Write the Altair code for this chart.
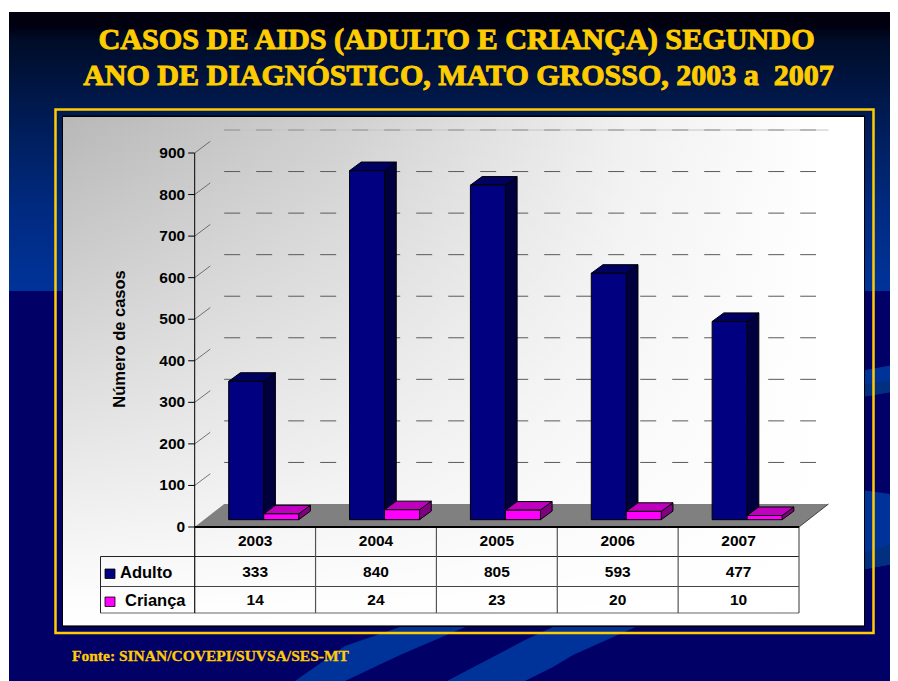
import altair as alt

# ---- data
years = ["2003", "2004", "2005", "2006", "2007"]
adulto = [333, 840, 805, 593, 477]
crianca = [14, 24, 23, 20, 10]
y_ticks = [0, 100, 200, 300, 400, 500, 600, 700, 800, 900]
title_lines = ["CASOS DE AIDS (ADULTO E CRIANÇA) SEGUNDO",
               "ANO DE DIAGNÓSTICO, MATO GROSSO, 2003 a\u00a0 2007"]
source_text = "Fonte: SINAN/COVEPI/SUVSA/SES-MT"

# ---- layout (image pixels)
OX, OY = 8, 8
W, H = 882, 673
PX0, PX5 = 194.7, 799.0      # category 0 .. 5 on the table
PY0, PY900 = 527.0, 153.0    # value 0 .. 900 on the axis
STEP = (PX5 - PX0) / 5
UNIT = (PY0 - PY900) / 900
def dxu(px): return px / STEP
def dyu(px): return px / UNIT
def ux(px): return (px - PX0) / STEP
def uy(px): return (PY0 - px) / UNIT

XS = alt.Scale(domain=[0, 5], range=[PX0 - OX, PX5 - OX], nice=False, zero=False, clamp=False)
YS = alt.Scale(domain=[0, 900], range=[PY0 - OY, PY900 - OY], nice=False, zero=False, clamp=False)
X = lambda f: alt.X(f, type="quantitative", scale=XS, axis=None)
X2 = lambda f: alt.X2(f)
Y = lambda f: alt.Y(f, type="quantitative", scale=YS, axis=None)
Y2 = lambda f: alt.Y2(f)

YEL = "#FFCC00"
SANS = "Liberation Sans"
SERIF = "Liberation Serif"
one = alt.Data(values=[{"a": 1}])

def box(fill=None, x0=0, x1=0, y0=0, y1=0, **kw):
    m = dict(kw)
    if fill is not None:
        m["fill"] = fill
    return alt.Chart(one).mark_rect(**m).encode(
        x=alt.value(x0 - OX), x2=alt.value(x1 - OX), y=alt.value(y0 - OY), y2=alt.value(y1 - OY))

def lin(stops, x2=0, y2=1):
    return {"gradient": "linear", "x1": 0, "y1": 0, "x2": x2, "y2": y2,
            "stops": [{"offset": o, "color": c} for o, c in stops]}

def label(text, x, y, size, font=SANS, color="black", align="center", angle=None, **kw):
    m = dict(font=font, fontSize=size, fontWeight="bold", color=color, align=align, baseline="middle", **kw)
    if angle is not None:
        m["angle"] = angle
    return alt.Chart(one).mark_text(**m).encode(
        x=alt.value(x - OX), y=alt.value(y - OY), text=alt.value(text))

layers = []
# ---- slide background
layers.append(box(lin([(0, "#00000f"), (0.05, "#00000f"), (0.1, "#000c28"), (0.35, "#001a50"), (0.7, "#002a80"), (1, "#003399")]),
                  9, 898, 12, 291))
layers.append(box("#000066", 9, 898, 291, 681))

# ---- background swooshes
swoosh_a = [(295, 681, 681), (345, 646, 681), (400, 627, 655), (470, 598, 625)]
swoosh_b = [(447, 681, 681), (525, 640, 681), (553, 627, 667), (573, 617, 655), (640, 590, 625)]
swoosh_c = [(855, 372, 398), (898, 364, 391)]
swoosh_d = [(855, 489, 571), (898, 495, 563)]
swoosh_c2 = [(855, 386, 398), (898, 379, 391)]
swoosh_d2 = [(855, 556, 571), (898, 542, 563)]
for pts, col in [(swoosh_a, "#003399"), (swoosh_b, "#003399"), (swoosh_c, "#003399"), (swoosh_d, "#003399"),
                 (swoosh_c2, "#00307f"), (swoosh_d2, "#00307f")]:
    rows = [{"x": ux(a), "y": uy(b), "y2": uy(c)} for a, b, c in pts]
    layers.append(alt.Chart(alt.Data(values=rows)).mark_area(color=col, interpolate="linear")
                  .encode(x=X("x"), y=Y("y"), y2=Y2("y2")))

# ---- frame and panel
layers.append(box(None, 55.5, 873.5, 109.5, 633, stroke=YEL, strokeWidth=2.5, fillOpacity=0))
layers.append(box("#000000", 62, 865, 115.5, 627))
layers.append(box(lin([(0, "#b8b8b8"), (0.35, "#d0d0d0"), (0.7, "#f0f0f0"), (0.95, "#ffffff"), (1, "#ffffff")], x2=1, y2=0), 63, 864, 117, 625))
layers.append(box(lin([(0, "rgba(255,255,255,0)"), (0.95, "rgba(255,255,255,0.97)"), (1, "rgba(255,255,255,1)")]), 63, 864, 117, 625))
layers.append(box("#666666", 63, 864, 625, 626))

# ---- wall grid
WD_X, WD_Y = dxu(29.5), dyu(23)
grid = [{"v": v + WD_Y, "x": 0 + WD_X, "x2": ux(816)} for v in y_ticks[1:]]
layers.append(alt.Chart(alt.Data(values=grid)).mark_rule(color="#5a5a5a", strokeWidth=1, strokeDash=[16, 16])
              .encode(x=X("x"), x2=X2("x2"), y=Y("v")))
layers.append(alt.Chart(alt.Data(values=[{"v": 900 + WD_Y, "x": WD_X, "x2": 5 + WD_X}])).mark_rule(color="#c4c4c4", strokeWidth=1)
              .encode(x=X("x"), x2=X2("x2"), y=Y("v")))

# ---- floor
floor = [{"y": 0, "x": 0, "x2": 5}, {"y": WD_Y, "x": WD_X, "x2": 5 + WD_X}]
layers.append(alt.Chart(alt.Data(values=floor)).mark_area(orient="horizontal", color="#808080")
              .encode(y=Y("y"), x=X("x"), x2=X2("x2")))
layers.append(alt.Chart(alt.Data(values=[{"x": 5, "y": 0}, {"x": 5 + WD_X, "y": WD_Y}]))
              .mark_line(color="#222222", strokeWidth=0.8).encode(x=X("x"), y=Y("y")))

# ---- y axis: slanted wall ticks, ticks, labels
diag = []
for v in y_ticks[1:]:
    diag += [{"t": v, "x": 0, "y": v}, {"t": v, "x": dxu(15.6), "y": v + dyu(11.7)}]
layers.append(alt.Chart(alt.Data(values=diag)).mark_line(color="#555555", strokeWidth=0.8)
              .encode(x=X("x"), y=Y("y"), detail="t:N"))
ticks = [{"v": v, "x": -dxu(6.5), "x2": 0} for v in y_ticks]
layers.append(alt.Chart(alt.Data(values=ticks)).mark_rule(color="black", strokeWidth=1)
              .encode(x=X("x"), x2=X2("x2"), y=Y("v")))
layers.append(alt.Chart(alt.Data(values=[{"x": 0, "a": 0, "b": 900}])).mark_rule(color="black", strokeWidth=1)
              .encode(x=X("x"), y=Y("a"), y2=Y2("b")))
tick_text = [{"v": v, "x": -dxu(9.5), "t": str(v)} for v in y_ticks]
layers.append(alt.Chart(alt.Data(values=tick_text)).mark_text(font=SANS, fontSize=15.5, fontWeight="bold", align="right", baseline="middle", color="#000000")
              .encode(x=X("x"), y=Y("v"), text="t:N"))

# ---- 3-D bars
BW = dxu(35)
BAR0 = dxu(34)
BD_X, BD_Y = dxu(11.7), dyu(8.6)
BASE = dyu(7.3)

def bar3d(vals, off, front, top, side):
    out = []
    fr, tp, sd = [], [], []
    for i, v in enumerate(vals):
        x0 = i + off
        x1 = x0 + BW
        h = v + BASE
        fr.append({"x": x0, "x2": x1, "y": BASE, "y2": h})
        tp += [{"k": i, "y": h, "x": x0, "x2": x1}, {"k": i, "y": h + BD_Y, "x": x0 + BD_X, "x2": x1 + BD_X}]
        sd += [{"k": i, "x": x1, "y": BASE, "y2": h}, {"k": i, "x": x1 + BD_X, "y": BASE + BD_Y, "y2": h + BD_Y}]
    out.append(alt.Chart(alt.Data(values=sd)).mark_area(color=side, stroke="black", strokeWidth=1)
               .encode(x=X("x"), y=Y("y"), y2=Y2("y2"), detail="k:N"))
    out.append(alt.Chart(alt.Data(values=tp)).mark_area(orient="horizontal", color=top, stroke="black", strokeWidth=1)
               .encode(y=Y("y"), x=X("x"), x2=X2("x2"), detail="k:N"))
    out.append(alt.Chart(alt.Data(values=fr)).mark_rect(color=front, stroke="black", strokeWidth=1)
               .encode(x=X("x"), x2=X2("x2"), y=Y("y"), y2=Y2("y2")))
    return out

layers += bar3d(adulto, BAR0, "#000080", "#000060", "#00003f")
layers += bar3d(crianca, BAR0 + BW, "#FF00FF", "#BF00BF", "#800080")

# ---- data table
hl = [{"x": ux(100.5), "x2": 5, "y": 556.5 - OY, "c": "#222222"},
      {"x": ux(100.5), "x2": 5, "y": 586.5 - OY, "c": "#444444"},
      {"x": ux(100.5), "x2": 5, "y": 613.0 - OY, "c": "#666666"}]
for r in hl:
    layers.append(alt.Chart(alt.Data(values=[r])).mark_rule(color=r["c"], strokeWidth=1.2)
                  .encode(x=X("x"), x2=X2("x2"), y=alt.value(r["y"])))
for i in range(6):
    layers.append(alt.Chart(alt.Data(values=[{"x": i}])).mark_rule(color="#111111" if i == 0 else "#555555", strokeWidth=1.2)
                  .encode(x=X("x"), y=alt.value(527 - OY), y2=alt.value(613 - OY)))
layers.append(alt.Chart(alt.Data(values=[{"x": ux(100.5)}])).mark_rule(color="#222222", strokeWidth=1)
              .encode(x=X("x"), y=alt.value(556.5 - OY), y2=alt.value(613 - OY)))
layers.append(alt.Chart(alt.Data(values=[{"x": 0, "x2": 5}])).mark_rule(color="black", strokeWidth=2)
              .encode(x=X("x"), x2=X2("x2"), y=alt.value(527 - OY)))

for rowy, col in [(541, years), (571.5, adulto), (600, crianca)]:
    rows = [{"x": i + 0.5, "t": str(v)} for i, v in enumerate(col)]
    layers.append(alt.Chart(alt.Data(values=rows)).mark_text(font=SANS, fontSize=15.5, fontWeight="bold", baseline="middle", color="#000000")
                  .encode(x=X("x"), y=alt.value(rowy - OY), text="t:N"))

layers.append(box("#000080", 105, 115, 569, 578.5, stroke="black", strokeWidth=0.8))
layers.append(box("#FF00FF", 105, 115, 597, 606.5, stroke="black", strokeWidth=0.8))
layers.append(label("Adulto", 120, 572.5, 16.5, align="left"))
layers.append(label("Criança", 125, 601, 16.5, align="left"))

# ---- titles
layers.append(label("Número de casos", 120, 339, 16.5, angle=270))
layers.append(label(title_lines[0], 456.5, 39.5, 30.2, font=SERIF, color=YEL, stroke=YEL, strokeWidth=1))
layers.append(label(title_lines[1], 458.5, 75.5, 30, font=SERIF, color=YEL, stroke=YEL, strokeWidth=1))
layers.append(label(source_text, 72, 656, 15.5, font=SERIF, color=YEL, align="left", stroke=YEL, strokeWidth=0.3))

chart = alt.layer(*layers).properties(
    width=W, height=H, padding=0, autosize=alt.AutoSizeParams(type="none"), background="white"
).configure_view(stroke=None)

chart.save("out.html", embed_options={"renderer": "svg", "actions": False})
